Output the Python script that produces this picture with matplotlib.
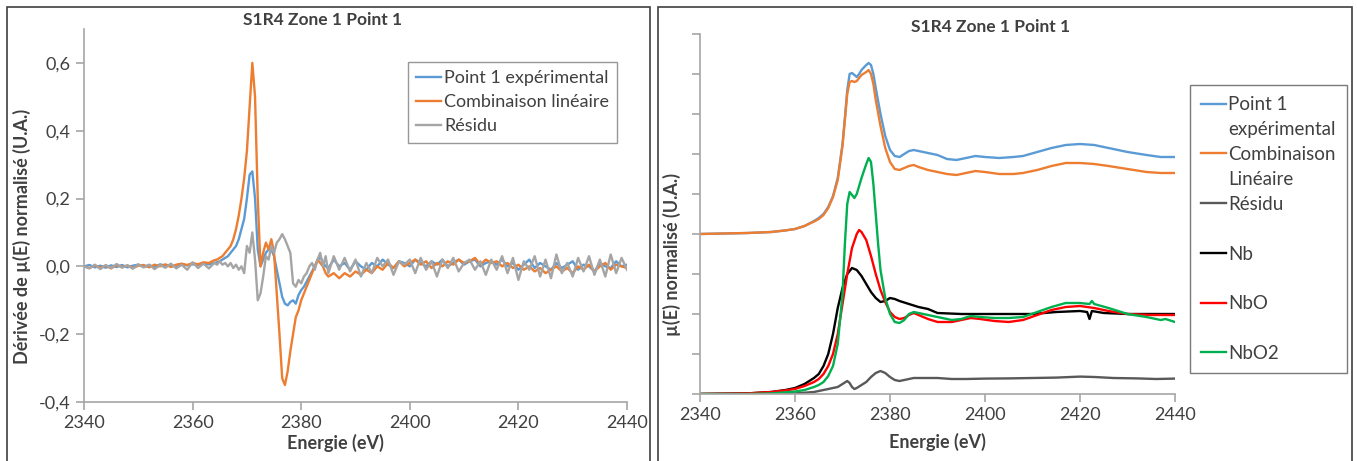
import numpy as np
import matplotlib
matplotlib.use('Agg')
import matplotlib.pyplot as plt
from matplotlib.lines import Line2D
from matplotlib.patches import Rectangle
from matplotlib.ticker import FuncFormatter

plt.rcParams['font.family'] = ['Lato', 'DejaVu Sans']

W, H = 1357, 461

# ---------- left panel : derivative ----------
energie_d = np.concatenate([np.arange(2340, 2365), np.arange(2364.5, 2385, 0.5), np.arange(2385, 2441)])

exp_d = [
    0.0, 0.004, -0.003, 0.002, -0.004, 0.003, -0.002, 0.004, -0.003, 0.002,
    0.005, -0.002, 0.004, -0.003, 0.006, 0.002, 0.004, -0.002, 0.005, 0.003,
    0.006, 0.004, 0.008, 0.006, 0.01,
    0.012, 0.015, 0.02, 0.025, 0.03, 0.04, 0.05, 0.06, 0.08, 0.11,
    0.14, 0.2, 0.27, 0.28, 0.2, 0.05, 0.0, 0.02, 0.04, 0.05,
    0.05, 0.03, -0.01, -0.05, -0.09, -0.11, -0.115, -0.105, -0.1, -0.11,
    -0.085, -0.07, -0.06, -0.045, -0.03, -0.015, 0.0, 0.015, 0.03, 0.01,
    0.0,
    -0.005, 0.02, 0.0, 0.01, -0.01, 0.015, 0.0, -0.01, 0.01, 0.0,
    0.02, 0.005, -0.005, 0.015, 0.01, 0.0, 0.02, 0.01, 0.0, 0.015,
    0.005, 0.02, 0.0, 0.01, 0.02, 0.005, 0.015, 0.02, 0.0, 0.01,
    0.015, 0.005, 0.02, 0.0, 0.01, -0.01, 0.005, 0.02, -0.005, 0.01,
    0.0, -0.01, 0.01, -0.005, 0.005, 0.015, -0.01, 0.005, 0.0, -0.015,
    0.01, 0.0, -0.005, 0.015, 0.0, 0.005,
]

comb_d = [
    0.0, -0.005, 0.003, -0.004, 0.002, -0.006, 0.004, -0.002, 0.003, -0.005,
    0.002, 0.004, -0.003, 0.005, 0.0, 0.006, -0.002, 0.005, 0.008, 0.004,
    0.01, 0.006, 0.012, 0.01, 0.018,
    0.02, 0.025, 0.03, 0.04, 0.05, 0.06, 0.08, 0.11, 0.15, 0.2,
    0.26, 0.34, 0.47, 0.6, 0.5, 0.2, 0.0, 0.04, 0.07, 0.05,
    0.08, 0.04, -0.08, -0.2, -0.33, -0.35, -0.31, -0.25, -0.2, -0.15,
    -0.13, -0.1, -0.08, -0.06, -0.04, -0.02, 0.0, 0.02, 0.01, 0.0,
    -0.02,
    -0.03, -0.02, -0.035, -0.02, -0.03, -0.015, -0.025, -0.01, -0.02, 0.0,
    -0.01, 0.01, -0.005, 0.015, 0.0, 0.01, 0.02, 0.005, 0.015, -0.005,
    0.01, 0.0, 0.015, 0.005, 0.02, 0.01, 0.015, 0.025, 0.005, 0.02,
    0.01, 0.015, 0.0, 0.01, -0.005, 0.005, -0.01, 0.0, -0.015, -0.005,
    -0.02, -0.01, 0.0, -0.015, -0.005, -0.02, 0.0, -0.01, 0.005, -0.015,
    0.0, 0.01, -0.01, 0.005, 0.0, -0.005,
]

res_d = [
    0.0, -0.006, 0.005, -0.008, 0.004, -0.005, 0.007, -0.004, 0.003, -0.007,
    0.006, -0.003, 0.005, -0.008, 0.004, -0.004, 0.008, -0.006, 0.005, -0.01,
    0.012, -0.005, 0.008, -0.006, 0.01,
    0.005, 0.015, 0.005, 0.01, 0.0, 0.01, -0.005, 0.005, -0.01, 0.0,
    -0.02, 0.06, 0.04, 0.1, 0.02, -0.1, -0.08, -0.03, 0.03, 0.02,
    0.06, 0.04, 0.07, 0.08, 0.095, 0.08, 0.06, 0.04, -0.05, -0.06,
    -0.04, -0.05, -0.03, -0.02, 0.0, 0.01, -0.01, 0.02, 0.04, 0.0,
    0.03,
    -0.02, 0.03, -0.01, 0.025, -0.015, 0.02, -0.03, 0.01, -0.02, 0.025,
    0.0, 0.02, -0.025, 0.015, 0.005, 0.02, -0.02, 0.025, -0.01, 0.015,
    -0.03, 0.02, -0.005, 0.025, -0.015, 0.01, 0.02, -0.01, 0.015, -0.025,
    0.02, -0.01, 0.03, -0.02, 0.025, -0.04, 0.015, -0.01, 0.03, -0.03,
    0.02, -0.035, 0.035, -0.02, 0.01, -0.03, 0.025, -0.015, 0.03, -0.025,
    0.02, -0.03, 0.035, -0.02, 0.025, -0.01,
]

# ---------- right panel : normalised mu(E) ----------
exp_e = [2340, 2350, 2355, 2358, 2360, 2362, 2364, 2365, 2366, 2367, 2368, 2369, 2370, 2370.5,
         2371, 2371.5, 2372, 2372.5, 2373, 2373.5, 2374, 2375, 2375.5, 2376, 2376.5, 2377, 2378,
         2379, 2380, 2381, 2382, 2383, 2384, 2385, 2386, 2388, 2390, 2392, 2394, 2396, 2398,
         2400, 2403, 2406, 2408, 2411, 2414, 2417, 2420, 2423, 2426, 2430, 2434, 2437, 2440]
exp_mu = [0.8, 0.805, 0.81, 0.818, 0.825, 0.84, 0.865, 0.88, 0.9, 0.935, 0.99, 1.08, 1.25, 1.38,
          1.52, 1.6, 1.605, 1.595, 1.585, 1.6, 1.62, 1.645, 1.655, 1.645, 1.6, 1.53, 1.4,
          1.29, 1.22, 1.19, 1.185, 1.2, 1.215, 1.22, 1.215, 1.205, 1.195, 1.175, 1.17, 1.18, 1.19,
          1.185, 1.18, 1.185, 1.19, 1.21, 1.23, 1.245, 1.25, 1.245, 1.23, 1.21, 1.195, 1.185, 1.185]
comb_mu = [0.8, 0.805, 0.81, 0.818, 0.825, 0.84, 0.862, 0.875, 0.895, 0.93, 0.985, 1.07, 1.24, 1.37,
           1.5, 1.56, 1.565, 1.56, 1.565, 1.58, 1.595, 1.61, 1.62, 1.6, 1.55, 1.47, 1.34,
           1.23, 1.16, 1.125, 1.12, 1.13, 1.14, 1.145, 1.135, 1.12, 1.11, 1.1, 1.095, 1.105, 1.115,
           1.11, 1.1, 1.1, 1.105, 1.12, 1.14, 1.155, 1.155, 1.15, 1.14, 1.125, 1.11, 1.105, 1.105]

res_e = [2340, 2355, 2360, 2364, 2367, 2369, 2370, 2371, 2371.5, 2372, 2372.5, 2373, 2374, 2375,
         2376, 2377, 2378, 2379, 2380, 2381, 2382, 2383, 2385, 2387, 2390, 2393, 2396, 2400,
         2405, 2410, 2415, 2420, 2423, 2427, 2432, 2436, 2440]
res_mu = [0.0, 0.0, 0.003, 0.01, 0.025, 0.035, 0.05, 0.065, 0.055, 0.035, 0.025, 0.03, 0.045, 0.06,
          0.085, 0.105, 0.115, 0.105, 0.085, 0.07, 0.065, 0.07, 0.08, 0.08, 0.08, 0.075, 0.075, 0.077,
          0.078, 0.08, 0.082, 0.087, 0.085, 0.08, 0.078, 0.075, 0.077]

nb_e = [2340, 2350, 2355, 2358, 2360, 2362, 2364, 2365, 2366, 2367, 2368, 2369, 2370, 2371, 2372,
        2373, 2374, 2375, 2376, 2377, 2378, 2379, 2380, 2381, 2382, 2384, 2386, 2388, 2390, 2395,
        2400, 2405, 2410, 2415, 2420, 2421.5, 2422, 2422.5, 2425, 2430, 2435, 2440]
nb_mu = [0.0, 0.003, 0.01, 0.02, 0.03, 0.05, 0.08, 0.1, 0.14, 0.2, 0.3, 0.43, 0.53, 0.6, 0.63,
         0.62, 0.59, 0.55, 0.51, 0.48, 0.46, 0.465, 0.48, 0.475, 0.465, 0.45, 0.435, 0.425, 0.405, 0.4,
         0.4, 0.4, 0.4, 0.41, 0.415, 0.41, 0.375, 0.415, 0.405, 0.4, 0.4, 0.4]

nbo_e = [2340, 2350, 2355, 2358, 2360, 2362, 2364, 2365, 2366, 2367, 2368, 2369, 2370, 2371, 2372,
         2373, 2373.5, 2374, 2375, 2376, 2377, 2378, 2379, 2380, 2381, 2382, 2383, 2384, 2385, 2386,
         2388, 2390, 2393, 2395, 2397, 2399, 2402, 2405, 2408, 2411, 2414, 2417, 2420, 2423, 2426,
         2430, 2435, 2440]
nbo_mu = [0.0, 0.003, 0.01, 0.018, 0.025, 0.04, 0.06, 0.075, 0.1, 0.14, 0.2, 0.3, 0.45, 0.6, 0.73,
          0.8, 0.82, 0.81, 0.77, 0.69, 0.6, 0.52, 0.46, 0.41, 0.385, 0.375, 0.38, 0.395, 0.405, 0.395,
          0.375, 0.36, 0.36, 0.37, 0.38, 0.375, 0.365, 0.36, 0.37, 0.395, 0.42, 0.435, 0.44, 0.43, 0.415,
          0.4, 0.395, 0.395]

nbo2_e = [2340, 2350, 2355, 2360, 2362, 2364, 2365, 2366, 2367, 2368, 2369, 2370, 2370.5, 2371,
          2371.5, 2372, 2372.5, 2373, 2373.5, 2374, 2375, 2375.5, 2376, 2376.5, 2377, 2377.5, 2378,
          2379, 2380, 2381, 2382, 2383, 2384, 2385, 2386, 2388, 2390, 2393, 2395, 2397, 2399, 2402,
          2405, 2408, 2411, 2414, 2417, 2420, 2422, 2422.5, 2423, 2426, 2430, 2434, 2437, 2438, 2440]
nbo2_mu = [0.0, 0.0, 0.003, 0.012, 0.02, 0.035, 0.045, 0.06, 0.09, 0.14, 0.25, 0.5, 0.75, 0.95,
           1.01, 0.995, 0.98, 1.0, 1.04, 1.08, 1.15, 1.18, 1.16, 1.05, 0.9, 0.75, 0.62,
           0.48, 0.4, 0.36, 0.355, 0.37, 0.4, 0.41, 0.405, 0.395, 0.385, 0.37, 0.375, 0.39, 0.385, 0.38,
           0.38, 0.385, 0.41, 0.435, 0.455, 0.455, 0.45, 0.465, 0.45, 0.43, 0.4, 0.385, 0.37, 0.375, 0.36]

BLUE, ORANGE, GREY = '#5b9bd5', '#ed7d31', '#a5a5a5'
AXIS = '#a6a6a6'
TXT = '#404040'


def style_axes(ax):
    for s in ['top', 'right']:
        ax.spines[s].set_visible(False)
    for s in ['left', 'bottom']:
        ax.spines[s].set_color(AXIS)
        ax.spines[s].set_linewidth(1.2)
    ax.tick_params(colors=AXIS, labelcolor=TXT, labelsize=13, length=6, width=1.2)
    ax.set_xlim(2340, 2440)
    ax.set_xticks(np.arange(2340, 2441, 20))
    ax.set_xlabel('Energie (eV)', fontsize=13, fontweight='bold', color=TXT, labelpad=7)


fig = plt.figure(figsize=(W / 100, H / 100), dpi=100)

# left
ax1 = fig.add_axes([84 / W, 1 - 402 / H, (627 - 84) / W, (402 - 29) / H])
ax1.plot(energie_d, exp_d, color=BLUE, lw=1.7, label='Point 1 expérimental')
ax1.plot(energie_d, comb_d, color=ORANGE, lw=1.7, label='Combinaison linéaire')
ax1.plot(energie_d, res_d, color=GREY, lw=1.7, label='Résidu')
style_axes(ax1)
ax1.xaxis.set_label_coords((335 - 84) / (627 - 84), -0.085)
ax1.set_ylim(-0.4, 0.7)
ax1.set_yticks([-0.4, -0.2, 0.0, 0.2, 0.4, 0.6])
ax1.yaxis.set_major_formatter(FuncFormatter(lambda v, p: f'{v:.1f}'.replace('.', ',')))
ax1.set_ylabel('Dérivée de µ(E) normalisé (U.A.)', fontsize=13, fontweight='bold', color=TXT)
ax1.yaxis.set_label_coords((31 - 84) / (627 - 84), (402 - 236) / (402 - 29))
leg1 = ax1.legend(loc='upper left', bbox_to_anchor=(408 / W, 1 - 62 / H), bbox_transform=fig.transFigure,
                  fontsize=13, frameon=True, fancybox=False, borderaxespad=0, handlelength=1.4,
                  handletextpad=0.15, labelspacing=0.45, borderpad=0.45)
leg1.get_frame().set_edgecolor('#7f7f7f')
leg1.get_frame().set_linewidth(1.0)
for t in leg1.get_texts():
    t.set_color(TXT)
fig.text(323 / W, 1 - 20 / H, 'S1R4 Zone 1 Point 1', ha='center', va='center',
         fontsize=12.5, fontweight='bold', color=TXT)

# right
ax2 = fig.add_axes([700 / W, 1 - 394 / H, (1175 - 700) / W, (394 - 34) / H])
l_exp, = ax2.plot(exp_e, exp_mu, color=BLUE, lw=1.7)
l_comb, = ax2.plot(exp_e, comb_mu, color=ORANGE, lw=1.7)
l_res, = ax2.plot(res_e, res_mu, color='#595959', lw=1.7)
l_nb, = ax2.plot(nb_e, nb_mu, color='black', lw=1.7)
l_nbo, = ax2.plot(nbo_e, nbo_mu, color='#ff0000', lw=1.7)
l_nbo2, = ax2.plot(nbo2_e, nbo2_mu, color='#00b050', lw=1.7)
style_axes(ax2)
ax2.set_ylim(0, 1.8)
ax2.set_yticks(np.arange(0, 1.81, 0.2))
ax2.set_yticklabels([])
ax2.set_ylabel('µ(E) normalisé (U.A.)', fontsize=13, fontweight='bold', color=TXT)
ax2.yaxis.set_label_coords((681 - 700) / (1175 - 700), (394 - 254) / (394 - 34))
blank = Line2D([], [], color='none')
handles = [l_exp, blank, l_comb, blank, l_res, blank, l_nb, blank, l_nbo, blank, l_nbo2]
labels = ['Point 1', 'expérimental', 'Combinaison', 'Linéaire', 'Résidu', ' ', 'Nb', ' ', 'NbO', ' ', 'NbO2']
leg2 = ax2.legend(handles, labels, loc='upper left', bbox_to_anchor=(1190 / W, 1 - 85 / H),
                  bbox_transform=fig.transFigure, fontsize=13.5, frameon=True, fancybox=False,
                  borderaxespad=0, handlelength=1.3, handletextpad=0.15, labelspacing=0.42, borderpad=0.6)
leg2.get_frame().set_edgecolor('#595959')
leg2.get_frame().set_linewidth(1.0)
for t in leg2.get_texts():
    t.set_color(TXT)
fig.text(991 / W, 1 - 27 / H, 'S1R4 Zone 1 Point 1', ha='center', va='center',
         fontsize=12.5, fontweight='bold', color=TXT)

# panel frames
fig.patches.append(Rectangle((7 / W, -0.05), (650 - 7) / W, 1.05 - 7 / H, transform=fig.transFigure,
                             fill=False, edgecolor='#404040', lw=1.2))
fig.patches.append(Rectangle((658 / W, -0.05), (1352 - 658) / W, 1.05 - 7 / H, transform=fig.transFigure,
                             fill=False, edgecolor='#404040', lw=1.2))

fig.savefig('out.png', dpi=100)
